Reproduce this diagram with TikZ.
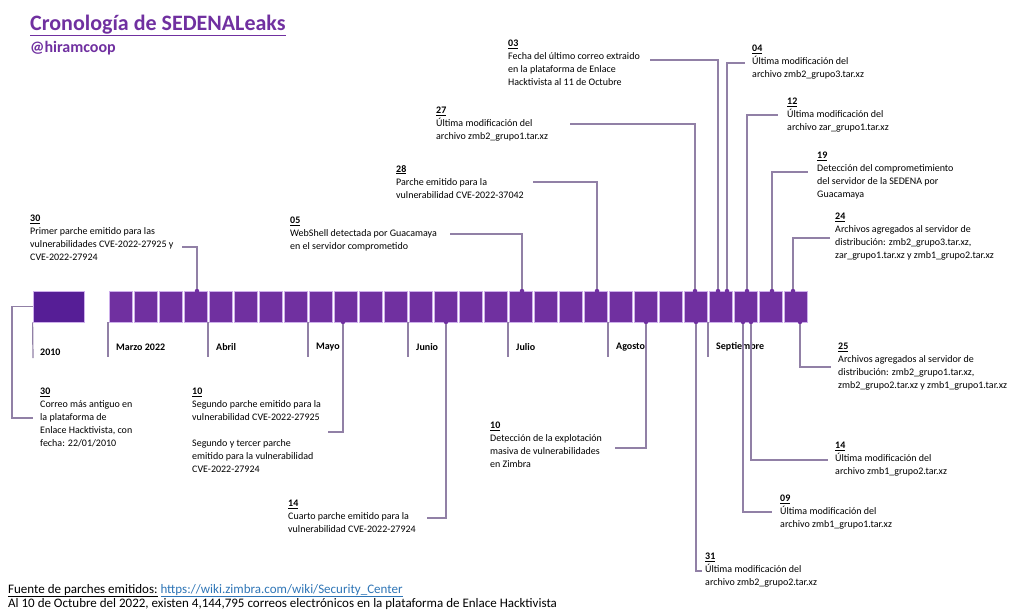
\documentclass[tikz,border=0pt]{standalone}
\usepackage{fontspec}
\setmainfont{Carlito}
\usepackage{xcolor}
\usepackage{tikz}
\usetikzlibrary{positioning}

\definecolor{barpurple}{RGB}{112,48,160}
\definecolor{blockpurple}{RGB}{86,30,150}
\definecolor{barlight}{RGB}{205,175,235}
\definecolor{linkgrey}{RGB}{145,128,166}
\definecolor{urlblue}{RGB}{46,117,182}
\newcommand{\numdia}[1]{\underline{\textbf{#1}}}

\begin{document}
\begin{tikzpicture}[x=1pt, y=-1pt]
            \tikzstyle{callout} = [anchor=north west, inner sep=0pt, align=left, font=\fontsize{10}{13}\selectfont]
            \tikzstyle{month} = [anchor=west, inner sep=0pt, font=\bfseries\fontsize{10}{12}\selectfont]
            \tikzstyle{link} = [draw=linkgrey, line width=1.2pt]
            \tikzstyle{dot} = [circle, fill=barpurple, inner sep=0pt, minimum size=4.5pt]
            \tikzstyle{seg} = [fill=barpurple, draw=barlight, line width=0.8pt]
            \useasboundingbox (0,0) rectangle (1011,611);

            \node [anchor=base west, inner sep=0pt, text=barpurple, font=\bfseries\fontsize{22}{26}\selectfont] (titulo) at (30,30) {\underline{Cronología de SEDENALeaks}};
            \node [anchor=base west, inner sep=0pt, text=barpurple, font=\bfseries\fontsize{16}{18}\selectfont] (autor) at (30,52) {@hiramcoop};

            % barra de tiempo
            \node [fill=blockpurple, draw=barlight, line width=0.8pt, minimum width=51pt, minimum height=31pt, inner sep=0pt] (blk) at (58.5,306.5) {};
            \foreach \i in {0,...,27}
                \filldraw [seg] ({108+25*\i+1},291) rectangle ({108+25*\i+24},322);

            \node [month] (y2010) at (40,352) {2010};
            \coordinate (y2010b) at (33,358);
            \draw [link] (blk.south west) -- (y2010b);
            \foreach \m [count=\i from 0] in {Marzo 2022, Abril, Mayo, Junio, Julio, Agosto, Septiembre} {
                \node [month] (m\i) at ({116+100*\i},347) {\m};
                \coordinate (mt\i) at ({108+100*\i},322);
                \coordinate (mb\i) at ({108+100*\i},357);
                \draw [link] (mt\i) -- (mb\i);
            }

            % arriba
            \node [callout] (E1) at (30,215) {\numdia{30}\\Primer parche emitido para las\\vulnerabilidades CVE-2022-27925 y\\CVE-2022-27924};
            \node [callout] (E2) at (290,217) {\numdia{05}\\WebShell detectada por Guacamaya\\en el servidor comprometido};
            \node [callout] (E3) at (396,165) {\numdia{28}\\Parche emitido para la\\vulnerabilidad CVE-2022-37042};
            \node [callout] (E4) at (436,107) {\numdia{27}\\Última modificación del\\archivo zmb2\_grupo1.tar.xz};
            \node [callout] (E5) at (508,40) {\numdia{03}\\Fecha del último correo extraido\\en la plataforma de Enlace\\Hacktivista al 11 de Octubre};
            \node [callout] (E6) at (752,45) {\numdia{04}\\Última modificación del\\archivo zmb2\_grupo3.tar.xz};
            \node [callout] (E7) at (787,98) {\numdia{12}\\Última modificación del\\archivo zar\_grupo1.tar.xz};
            \node [callout] (E8) at (817,152) {\numdia{19}\\Detección del comprometimiento\\del servidor de la SEDENA por\\Guacamaya};
            \node [callout] (E9) at (835,213) {\numdia{24}\\Archivos agregados al servidor de\\distribución: zmb2\_grupo3.tar.xz,\\zar\_grupo1.tar.xz y zmb1\_grupo2.tar.xz};

            % abajo
            \node [callout] (E10) at (40,388) {\numdia{30}\\Correo más antiguo en\\la plataforma de\\Enlace Hacktivista, con\\fecha: 22/01/2010};
            \node [callout] (E11) at (192,388) {\numdia{10}\\Segundo parche emitido para la\\vulnerabilidad CVE-2022-27925\\[13pt]Segundo y tercer parche\\emitido para la vulnerabilidad\\CVE-2022-27924};
            \node [callout] (E12) at (288,500) {\numdia{14}\\Cuarto parche emitido para la\\vulnerabilidad CVE-2022-27924};
            \node [callout] (E13) at (490,422) {\numdia{10}\\Detección de la explotación\\masiva de vulnerabilidades\\en Zimbra};
            \node [callout] (E14) at (705,553) {\numdia{31}\\Última modificación del\\archivo zmb2\_grupo2.tar.xz};
            \node [callout] (E15) at (780,495) {\numdia{09}\\Última modificación del\\archivo zmb1\_grupo1.tar.xz};
            \node [callout] (E16) at (835,442) {\numdia{14}\\Última modificación del\\archivo zmb1\_grupo2.tar.xz};
            \node [callout] (E17) at (838,343) {\numdia{25}\\Archivos agregados al servidor de\\distribución: zmb2\_grupo1.tar.xz,\\zmb2\_grupo2.tar.xz y zmb1\_grupo1.tar.xz};

            % puntos sobre la barra
            \node [dot] (D1) at (197,291) {};
            \node [dot] (D2) at (522,291) {};
            \node [dot] (D3) at (597,291) {};
            \node [dot] (D4) at (695,291) {};
            \node [dot] (D5) at (718,291) {};
            \node [dot] (D6) at (727,291) {};
            \node [dot] (D7) at (747,291) {};
            \node [dot] (D8) at (772,291) {};
            \node [dot] (D9) at (793,291) {};
            \node [dot] (D11) at (343,322) {};
            \node [dot] (D12) at (446,322) {};
            \node [dot] (D13) at (646,322) {};
            \node [dot] (D14) at (696,322) {};
            \node [dot] (D15) at (743,322) {};
            \node [dot] (D16) at (751,322) {};
            \node [dot] (D17) at (800,322) {};

            \coordinate (A1) at (182,247);
            \coordinate (A2) at (450,234);
            \coordinate (A3) at (533,182);
            \coordinate (A4) at (570,124);
            \coordinate (A5) at (650,60);
            \coordinate (A6) at (745,63);
            \coordinate (A7) at (778,115);
            \coordinate (A8) at (808,172);
            \coordinate (A9) at (830,238);
            \coordinate (A11) at (328,432);
            \coordinate (A12) at (427,518);
            \coordinate (A13) at (615,448);
            \coordinate (A14) at (702,571);
            \coordinate (A15) at (772,512);
            \coordinate (A16) at (828,460);
            \coordinate (A17) at (831,367);
            \coordinate (J1) at (12,306.5);
            \coordinate (J2) at (33,418);

            \draw [link] (D1) |- (A1);
            \draw [link] (D2) |- (A2);
            \draw [link] (D3) |- (A3);
            \draw [link] (D4) |- (A4);
            \draw [link] (D5) |- (A5);
            \draw [link] (D6) |- (A6);
            \draw [link] (D7) |- (A7);
            \draw [link] (D8) |- (A8);
            \draw [link] (D9) |- (A9);
            \draw [link] (blk.west) -- (J1) |- (J2);
            \draw [link] (D11) |- (A11);
            \draw [link] (D12) |- (A12);
            \draw [link] (D13) |- (A13);
            \draw [link] (D14) |- (A14);
            \draw [link] (D15) |- (A15);
            \draw [link] (D16) |- (A16);
            \draw [link] (D17) |- (A17);

            \node [anchor=base west, inner sep=0pt, font=\fontsize{13}{15}\selectfont] (fuente) at (8,593) {\underline{Fuente de parches emitidos:} \textcolor{urlblue}{\underline{https://wiki.zimbra.com/wiki/Security\_Center}}};
            \node [anchor=base west, inner sep=0pt, font=\fontsize{13}{15}\selectfont] (total) at (8,607) {Al 10 de Octubre del 2022, existen 4,144,795 correos electrónicos en la plataforma de Enlace Hacktivista};
        \end{tikzpicture}
\end{document}
